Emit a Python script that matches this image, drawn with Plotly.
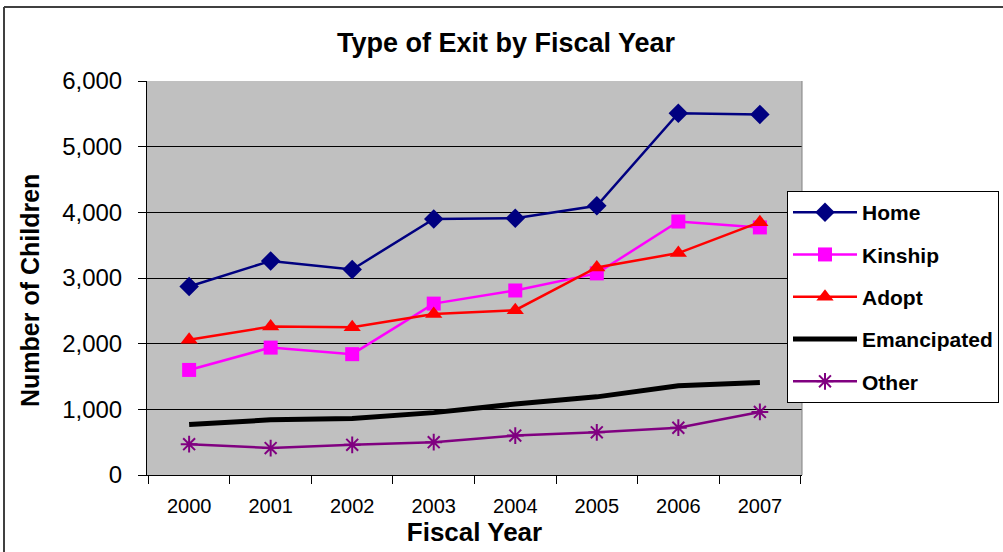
import plotly.graph_objects as go

years = ["2000", "2001", "2002", "2003", "2004", "2005", "2006", "2007"]
home = [2870, 3260, 3130, 3900, 3910, 4100, 5510, 5490]
kinship = [1600, 1940, 1840, 2610, 2810, 3070, 3860, 3770]
adopt = [2060, 2260, 2250, 2450, 2510, 3160, 3380, 3850]
emancipated = [770, 840, 860, 950, 1080, 1190, 1360, 1410]
other = [470, 410, 460, 500, 600, 650, 720, 960]

FONT = "Arial, Liberation Sans, sans-serif"

fig = go.Figure()
fig.add_trace(go.Scatter(x=years, y=home, name="<b>Home</b>", mode="lines+markers",
                         legendgroup="a",
                         line=dict(color="#000080", width=2.5),
                         marker=dict(symbol="diamond", size=15, color="#000080")))
fig.add_trace(go.Scatter(x=years, y=kinship, name="<b>Kinship</b>", mode="lines+markers",
                         legendgroup="b",
                         line=dict(color="#FF00FF", width=2.5),
                         marker=dict(symbol="square", size=14, color="#FF00FF")))
fig.add_trace(go.Scatter(x=years, y=adopt, name="<b>Adopt</b>", mode="lines+markers",
                         legendgroup="c",
                         line=dict(color="#FF0000", width=2.5),
                         marker=dict(symbol="triangle-up", size=15, color="#FF0000")))
fig.add_trace(go.Scatter(x=years, y=emancipated, name="<b>Emancipated</b>", mode="lines",
                         legendgroup="d",
                         line=dict(color="#000000", width=5)))
fig.add_trace(go.Scatter(x=years, y=other, name="<b>Other</b>", mode="lines+markers",
                         legendgroup="e",
                         line=dict(color="#800080", width=2.5),
                         marker=dict(symbol="asterisk-open", size=14, color="#800080",
                                     line=dict(color="#800080", width=2))))

L, R, T, B = 147, 201, 81, 77
W, H = 1003, 552
pw, ph = W - L - R, H - T - B

def px(x):
    return (x - L) / pw

def py(y):
    return (H - B - y) / ph

fig.update_layout(
    width=W, height=H,
    margin=dict(l=L, r=R, t=T, b=B, autoexpand=False),
    paper_bgcolor="white",
    plot_bgcolor="#C0C0C0",
    font=dict(family=FONT, color="black"),
    title=dict(text="<b>Type of Exit by Fiscal Year</b>", x=506 / W, xref="container",
               xanchor="center", y=1 - 43 / H, yanchor="middle",
               font=dict(size=27, family=FONT)),
    showlegend=True,
    legend=dict(x=px(787), y=py(191), xanchor="left", yanchor="top",
                bgcolor="white", bordercolor="black", borderwidth=1,
                font=dict(size=21, family=FONT), tracegroupgap=12,
                itemwidth=64),
    xaxis=dict(type="category", showline=True, linecolor="black", linewidth=1,
               ticks="outside", tickson="boundaries", ticklen=8, tickcolor="black",
               tickfont=dict(size=20), showgrid=False, ticklabelstandoff=13,
               title=dict(text="<b>Fiscal Year</b>", font=dict(size=26), standoff=2)),
    yaxis=dict(range=[0, 6000], dtick=1000, tickformat=",d", showline=True,
               linecolor="black", linewidth=1, ticks="outside", ticklen=8,
               tickcolor="black", tickfont=dict(size=24), showgrid=True,
               gridcolor="black", gridwidth=1, zeroline=False, ticklabelstandoff=11),
    annotations=[
        dict(text="<b>Number of Children</b>", xref="paper", yref="paper",
             x=px(30), y=py(291), xanchor="center", yanchor="middle",
             textangle=-90, showarrow=False, font=dict(size=25, family=FONT)),
    ],
    shapes=[
        dict(type="line", xref="paper", yref="paper", x0=px(4), x1=px(1003),
             y0=py(7), y1=py(7), line=dict(color="#404040", width=2)),
        dict(type="line", xref="paper", yref="paper", x0=px(4), x1=px(4),
             y0=py(7), y1=py(552), line=dict(color="#404040", width=2)),
        dict(type="line", xref="paper", yref="paper", x0=1, x1=1, y0=0, y1=1,
             line=dict(color="#808080", width=1)),
    ],
)

fig.write_html("out.html")
